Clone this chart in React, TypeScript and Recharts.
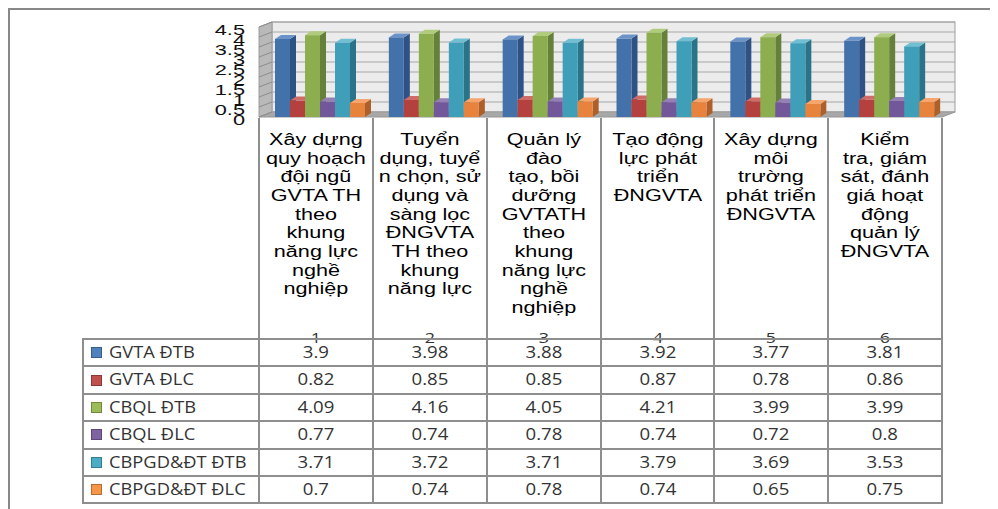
import React from 'react';
import { BarChart, Bar, XAxis, YAxis, CartesianGrid, ReferenceArea } from 'recharts';

// category labels keep the line breaks of the original cells
const categories = [
  'Xây dựng\nquy hoạch\nđội ngũ\nGVTA TH\ntheo\nkhung\nnăng lực\nnghề\nnghiệp',
  'Tuyển\ndụng, tuyể\nn chọn, sử\ndụng và\nsàng lọc\nĐNGVTA\nTH theo\nkhung\nnăng lực',
  'Quản lý\nđào\ntạo, bồi\ndưỡng\nGVTATH\ntheo\nkhung\nnăng lực\nnghề\nnghiệp',
  'Tạo động\nlực phát\ntriển\nĐNGVTA',
  'Xây dựng\nmôi\ntrường\nphát triển\nĐNGVTA',
  'Kiểm\ntra, giám\nsát, đánh\ngiá hoạt\nđộng\nquản lý\nĐNGVTA',
];
const categoryNumbers = ['1', '2', '3', '4', '5', '6'];
const seriesNames = ['GVTA ĐTB', 'GVTA ĐLC', 'CBQL ĐTB', 'CBQL ĐLC', 'CBPGD&ĐT ĐTB', 'CBPGD&ĐT ĐLC'];

const gvtaDtb = [3.9, 3.98, 3.88, 3.92, 3.77, 3.81];
const gvtaDlc = [0.82, 0.85, 0.85, 0.87, 0.78, 0.86];
const cbqlDtb = [4.09, 4.16, 4.05, 4.21, 3.99, 3.99];
const cbqlDlc = [0.77, 0.74, 0.78, 0.74, 0.72, 0.8];
const cbpgdDtb = [3.71, 3.72, 3.71, 3.79, 3.69, 3.53];
const cbpgdDlc = [0.7, 0.74, 0.78, 0.74, 0.65, 0.75];

const yTicks = [0, 0.5, 1, 1.5, 2, 2.5, 3, 3.5, 4, 4.5];

const seriesValues = [gvtaDtb, gvtaDlc, cbqlDtb, cbqlDlc, cbpgdDtb, cbpgdDlc];

const palette = [
  { front: '#4372aa', side: '#2d5283', top: '#6b93c8', legend: '#4f81bd', border: '#385d8a' },
  { front: '#b5413e', side: '#83302d', top: '#d06b68', legend: '#c0504d', border: '#8c3836' },
  { front: '#8cae4e', side: '#65803a', top: '#b0cb7b', legend: '#9bbb59', border: '#71893f' },
  { front: '#72579a', side: '#513e70', top: '#9580b6', legend: '#8064a2', border: '#5c4776' },
  { front: '#3f9fb9', side: '#2b7388', top: '#72bed3', legend: '#4bacc6', border: '#357d91' },
  { front: '#e7833d', side: '#ae602a', top: '#f6a56c', legend: '#f79646', border: '#b66d31' },
];

const data = categoryNumbers.map((num, i) => {
  const row: Record<string, string | number> = { num };
  seriesValues.forEach((vals, s) => {
    row['s' + s] = vals[i];
  });
  return row;
});

// fake 3d geometry
const WALL_DX = 13;
const WALL_DY = 5;
const BAR_DX = 6;
const BAR_DY = 4;
const BAR_SHIFT = 4;

// layout (relative to the framed container at page 8,8)
const PLOT_LEFT = 251;
const PLOT_RIGHT = 934;
const COL_W = (PLOT_RIGHT - PLOT_LEFT) / categories.length;
const CAT_TOP = 110;
const TABLE_TOP = 331;
const ROW_H = 27.4;
const TABLE_LEFT = 75;
const TABLE_BOTTOM = TABLE_TOP + ROW_H * seriesNames.length;
const LINE = '#8e8e8e';

function Walls(props: any) {
  const { x, y, width, height } = props;
  const b = y + height;
  return (
    <g>
      <rect x={x + WALL_DX} y={y - WALL_DY} width={width} height={height} fill="#ececec" stroke="#9c9c9c" />
      <polygon
        points={`${x},${y} ${x + WALL_DX},${y - WALL_DY} ${x + WALL_DX},${b - WALL_DY} ${x},${b}`}
        fill="#b9b9b9"
        stroke="#9c9c9c"
      />
      <polygon
        points={`${x},${b} ${x + WALL_DX},${b - WALL_DY} ${x + width + WALL_DX},${b - WALL_DY} ${x + width},${b}`}
        fill="#a8a8a8"
        stroke="#969696"
      />
    </g>
  );
}

const gridLine = (p: any) => (
  <g key={p.key}>
    <line x1={p.x1} y1={p.y1} x2={p.x1 + WALL_DX} y2={p.y1 - WALL_DY} stroke="#8c8c8c" strokeWidth={1} />
    <line x1={p.x1 + WALL_DX} y1={p.y1 - WALL_DY} x2={p.x2 + WALL_DX} y2={p.y2 - WALL_DY} stroke="#a6a6a6" strokeWidth={1} />
  </g>
);

function Prism(props: any) {
  const { x, y, width, height, colors } = props;
  if (!height || height <= 0) return null;
  const x0 = x + BAR_SHIFT;
  const x1 = x0 + width;
  const b = y + height;
  return (
    <g>
      <polygon points={`${x1},${y} ${x1 + BAR_DX},${y - BAR_DY} ${x1 + BAR_DX},${b - BAR_DY} ${x1},${b}`} fill={colors.side} />
      <polygon points={`${x0},${y} ${x0 + BAR_DX},${y - BAR_DY} ${x1 + BAR_DX},${y - BAR_DY} ${x1},${y}`} fill={colors.top} />
      <rect x={x0} y={y} width={width} height={height} fill={colors.front} />
    </g>
  );
}

function YTick(props: any) {
  const { x, y, payload } = props;
  return (
    <text
      transform={`translate(${x},${y + 3}) scale(1.45,1)`}
      textAnchor="end"
      dominantBaseline="central"
      fontSize={15}
      fontFamily='"Liberation Sans", Arial, sans-serif'
      fill="#111"
    >
      {payload.value}
    </text>
  );
}

const tableFont = '"Open Sans", "Noto Sans", sans-serif';

export default function App() {
  return (
    <div style={{ position: 'relative', width: 990, height: 501, background: '#fff', overflow: 'hidden' }}>
      <div style={{ position: 'absolute', left: 0, top: 0, right: 0, bottom: 0, borderLeft: '2px solid #888', borderTop: '2px solid #888' }} />

      <div style={{ position: 'absolute', left: 0, top: 0 }}>
        <BarChart width={990} height={130} data={data} margin={{ top: 19, right: 56, bottom: 21, left: 181 }} barSize={15} barGap={0}>
          <ReferenceArea y1={0} y2={4.5} ifOverflow="visible" shape={Walls} zIndex={-200} />
          <CartesianGrid vertical={false} horizontal={gridLine} zIndex={-100} />
          <XAxis dataKey="num" hide />
          <YAxis
            domain={[0, 4.5]}
            ticks={yTicks}
            interval={0}
            width={70}
            axisLine={false}
            tickLine={false}
            tickSize={0}
            tickMargin={14}
            tick={<YTick />}
          />
          {seriesNames.map((name, s) => (
            <Bar
              key={name}
              dataKey={'s' + s}
              name={name}
              isAnimationActive={false}
              shape={(p: any) => <Prism {...p} colors={palette[s]} />}
            />
          ))}
        </BarChart>
      </div>

      {categories.map((c, i) => (
        <div
          key={'cat' + i}
          style={{
            position: 'absolute',
            left: PLOT_LEFT + i * COL_W,
            top: 122.8,
            width: COL_W,
            textAlign: 'center',
            whiteSpace: 'pre',
            fontFamily: '"Liberation Sans", Arial, sans-serif',
            fontSize: 16,
            lineHeight: '18.7px',
            color: '#000',
            transform: 'scaleX(1.35)',
            transformOrigin: 'center top',
          }}
        >
          {c}
        </div>
      ))}

      {categoryNumbers.map((n, i) => (
        <div
          key={'num' + i}
          style={{
            position: 'absolute',
            left: PLOT_LEFT + i * COL_W,
            top: 320,
            width: COL_W,
            textAlign: 'center',
            fontFamily: tableFont,
            fontSize: 15,
            lineHeight: '18px',
            color: '#333',
            transform: 'scaleX(1.2)',
          }}
        >
          {n}
        </div>
      ))}

      {seriesNames.map((name, r) => (
        <React.Fragment key={'row' + r}>
          <div
            style={{
              position: 'absolute',
              left: 83,
              top: TABLE_TOP + r * ROW_H + ROW_H / 2 - 5.5,
              width: 11,
              height: 11,
              boxSizing: 'border-box',
              background: palette[r].legend,
              border: `1px solid ${palette[r].border}`,
            }}
          />
          <div
            style={{
              position: 'absolute',
              left: 101,
              top: TABLE_TOP + r * ROW_H,
              height: ROW_H,
              lineHeight: ROW_H + 'px',
              whiteSpace: 'nowrap',
              fontFamily: tableFont,
              fontSize: 15.5,
              color: '#333',
              transform: 'scaleX(1.18)',
              transformOrigin: 'left center',
            }}
          >
            {name}
          </div>
          {seriesValues[r].map((v, i) => (
            <div
              key={'v' + i}
              style={{
                position: 'absolute',
                left: PLOT_LEFT + i * COL_W,
                top: TABLE_TOP + r * ROW_H,
                width: COL_W,
                height: ROW_H,
                lineHeight: ROW_H + 'px',
                textAlign: 'center',
                fontFamily: tableFont,
                fontSize: 15.5,
                color: '#333',
                transform: 'scaleX(1.2)',
              }}
            >
              {v}
            </div>
          ))}
        </React.Fragment>
      ))}

      {/* vertical rules: category columns run from the floor down through the table */}
      {categoryNumbers.concat(['end']).map((_, k) => (
        <div
          key={'vl' + k}
          style={{ position: 'absolute', left: PLOT_LEFT + k * COL_W - 1, top: CAT_TOP, width: 2, height: TABLE_BOTTOM - CAT_TOP, background: LINE }}
        />
      ))}
      <div style={{ position: 'absolute', left: TABLE_LEFT - 1, top: TABLE_TOP, width: 2, height: TABLE_BOTTOM - TABLE_TOP, background: LINE }} />
      {seriesNames.concat(['end']).map((_, r) => (
        <div
          key={'hl' + r}
          style={{ position: 'absolute', left: TABLE_LEFT - 1, top: TABLE_TOP + r * ROW_H - 1, width: PLOT_RIGHT - TABLE_LEFT + 2, height: 2, background: LINE }}
        />
      ))}
    </div>
  );
}
